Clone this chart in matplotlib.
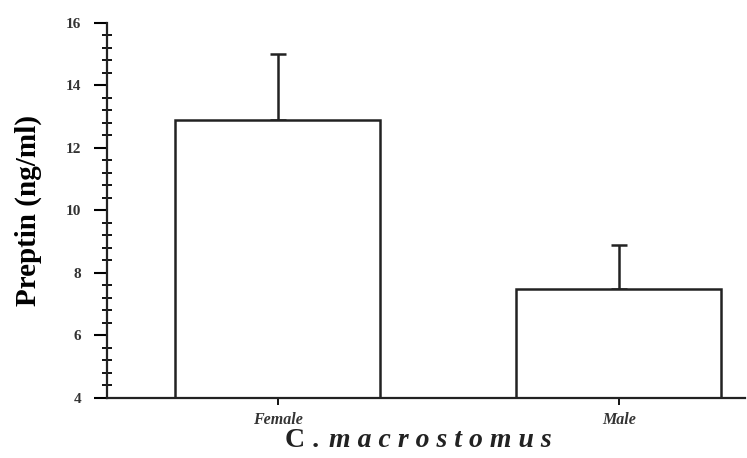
import matplotlib
matplotlib.use('Agg')
import matplotlib.pyplot as plt
from matplotlib.ticker import MultipleLocator

# ── data ─────────────────────────────────────────────────────
groups = ['Female', 'Male']
means = [12.9, 7.5]
sd_up = [2.1, 1.4]

plt.rcParams['font.family'] = ['Liberation Serif', 'DejaVu Serif']

fig = plt.figure(figsize=(7.47, 4.58), dpi=100)
ax = fig.add_axes([0.1432, 0.131, 0.854, 0.819])

x = range(len(groups))
ax.bar(x, means, width=0.6, bottom=0, color='white', edgecolor='#222222',
       linewidth=1.8, zorder=2)
ax.errorbar(x, means, yerr=[[0] * len(groups), sd_up], fmt='none',
            ecolor='#222222', elinewidth=1.8, capsize=6, capthick=1.8, zorder=1)

ax.set_ylim(4, 16)
ax.set_xlim(-0.5, 1.37)
ax.yaxis.set_major_locator(MultipleLocator(2))
ax.yaxis.set_minor_locator(MultipleLocator(0.4))
ax.tick_params(axis='y', which='major', direction='out', length=9.5, width=1.5,
               labelsize=11, pad=9)
ax.tick_params(axis='y', which='minor', direction='inout', length=7, width=1.3)
ax.tick_params(axis='x', which='major', direction='out', length=5, width=1.3,
               labelsize=11.5, pad=5)
for lab in ax.get_yticklabels():
    lab.set_fontweight('bold')
    lab.set_color('#333333')

ax.set_xticks(list(x))
ax.set_xticklabels(groups, fontweight='bold', fontstyle='italic', color='#333333')

for side in ['top', 'right']:
    ax.spines[side].set_visible(False)
for side in ['left', 'bottom']:
    ax.spines[side].set_linewidth(1.6)
    ax.spines[side].set_color('#222222')

ax.set_ylabel('Preptin (ng/ml)', fontsize=21, fontweight='bold')
ax.yaxis.set_label_coords(-0.102, 0.5)

# x title: upright "C." followed by spaced italic species name
fig.text(0.381, 0.024, 'C .', fontsize=20, fontweight='bold',
         ha='left', va='baseline', color='#222222')
fig.text(0.441, 0.024, 'm a c r o s t o m u s', fontsize=20, fontweight='bold',
         fontstyle='italic', ha='left', va='baseline', color='#222222')

fig.savefig('out.png', dpi=100)
